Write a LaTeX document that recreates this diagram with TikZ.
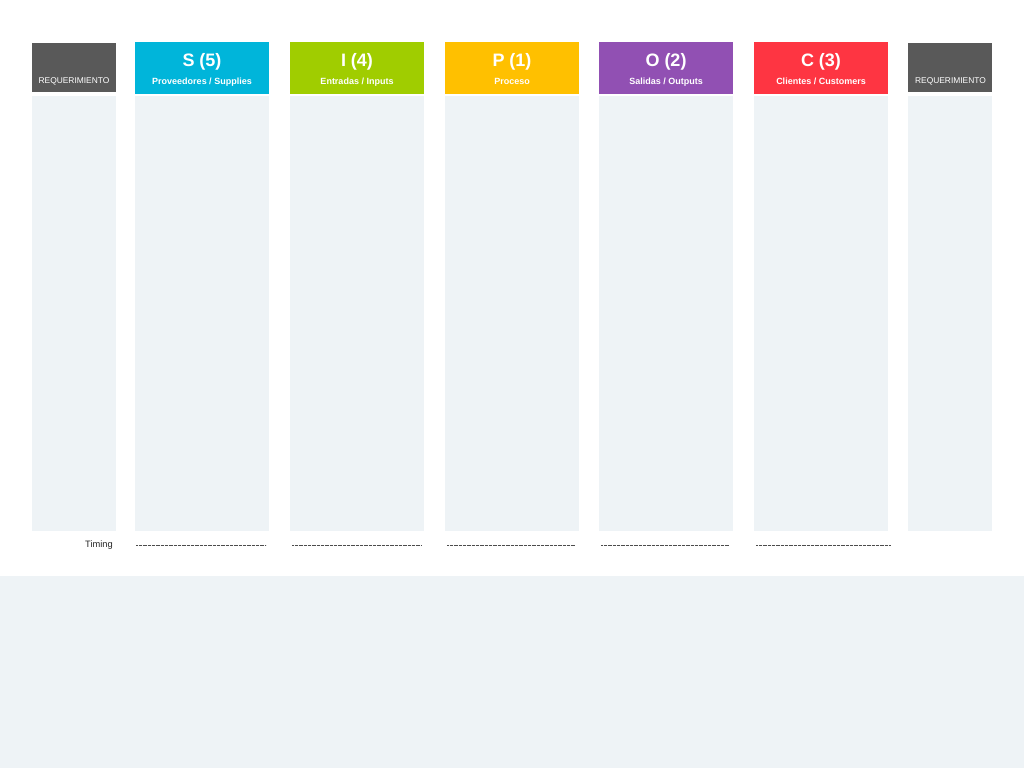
\documentclass[tikz,border=0pt]{standalone}
\usepackage{fontspec}
\setmainfont{Liberation Sans}
\definecolor{reqgray}{HTML}{595959}
\definecolor{bodygray}{HTML}{EEF3F6}
\definecolor{sblue}{HTML}{00B5DA}
\definecolor{igreen}{HTML}{A0CD00}
\definecolor{pyellow}{HTML}{FFC000}
\definecolor{opurple}{HTML}{9150B3}
\definecolor{cred}{HTML}{FE3542}
\tikzset{
  colbody/.style={fill=bodygray, inner sep=0pt, anchor=north west,
    minimum width=134pt, minimum height=435pt},
  reqbody/.style={colbody, minimum width=84pt},
  colhead/.style={inner sep=0pt, anchor=north west,
    minimum width=134pt, minimum height=52pt},
  reqhead/.style={colhead, fill=reqgray, minimum width=84pt, minimum height=49pt},
  headtitle/.style={text=white, inner sep=0pt, anchor=base,
    font=\fontsize{18}{20}\selectfont\bfseries},
  headsub/.style={text=white, inner sep=0pt, anchor=base,
    font=\fontsize{9}{10}\selectfont\bfseries},
  reqtext/.style={text=white, inner sep=0pt, anchor=base,
    font=\fontsize{8.4}{10}\selectfont},
  timingline/.style={draw=black!70, line width=0.6pt, dash pattern=on 0.7pt off 0.6pt}
}
\begin{document}
\begin{tikzpicture}[x=1pt, y=-1pt]
  \useasboundingbox (0,0) rectangle (1024,768);
  \fill[bodygray] (0,576) rectangle (1024,768);
  % column bodies
  \node[reqbody] (bRl) at (32,96) {};
  \node[colbody] (bS) at (135,96) {};
  \node[colbody] (bI) at (290,96) {};
  \node[colbody] (bP) at (445,96) {};
  \node[colbody] (bO) at (599,96) {};
  \node[colbody] (bC) at (754,96) {};
  \node[reqbody] (bRr) at (908,96) {};
  % headers
  \node[reqhead] (hRl) at (32,43) {};
  \node[colhead, fill=sblue] (hS) at (135,42) {};
  \node[colhead, fill=igreen] (hI) at (290,42) {};
  \node[colhead, fill=pyellow] (hP) at (445,42) {};
  \node[colhead, fill=opurple] (hO) at (599,42) {};
  \node[colhead, fill=cred] (hC) at (754,42) {};
  \node[reqhead] (hRr) at (908,43) {};
  % header texts
  \node[reqtext] (tRl) at (74,83.5) {REQUERIMIENTO};
  \node[headtitle] (tS) at (202,66.5) {S (5)};
  \node[headsub] (sS) at (202,84) {Proveedores / Supplies};
  \node[headtitle] (tI) at (357,66.5) {I (4)};
  \node[headsub] (sI) at (357,84) {Entradas / Inputs};
  \node[headtitle] (tP) at (512,66.5) {P (1)};
  \node[headsub] (sP) at (512,84) {Proceso};
  \node[headtitle] (tO) at (666,66.5) {O (2)};
  \node[headsub] (sO) at (666,84) {Salidas / Outputs};
  \node[headtitle] (tC) at (821,66.5) {C (3)};
  \node[headsub] (sC) at (821,84) {Clientes / Customers};
  \node[reqtext] (tRr) at (950.5,83.5) {REQUERIMIENTO};
  % timing
  \node[anchor=base east, inner sep=0pt, text=black!85, font=\fontsize{9.3}{10}\selectfont] (timing) at (113,547.5) {Timing};
  \draw[timingline] (136,545) -- (266,545);
  \draw[timingline] (292,545) -- (421,545);
  \draw[timingline] (447,545) -- (575,545);
  \draw[timingline] (601,545) -- (729,545);
  \draw[timingline] (756,545) -- (890,545);
\end{tikzpicture}
\end{document}
